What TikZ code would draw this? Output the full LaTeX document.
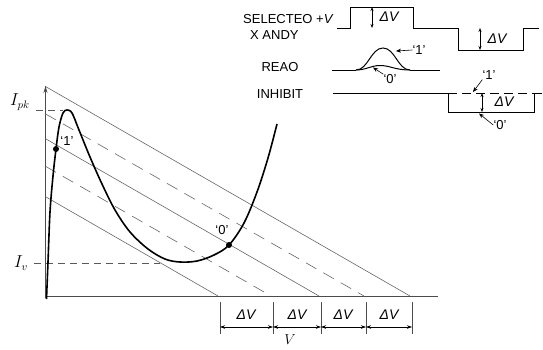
\documentclass[tikz,border=0pt]{standalone}
\usepackage{fontspec}
\setsansfont{Liberation Sans}
\usetikzlibrary{arrows.meta}
\begin{document}
\begin{tikzpicture}[x=1pt,y=-1pt,
  load/.style={black!60, line width=0.6pt},
  loaddash/.style={load, dash pattern=on 12pt off 8pt},
  axis/.style={black!70, line width=0.8pt},
  curve/.style={black, line width=1.6pt},
  wave/.style={black, line width=1pt},
  lvl/.style={black!65, dash pattern=on 7pt off 5pt, line width=0.6pt},
  lbl/.style={font=\fontsize{13}{13}\selectfont\sffamily, inner sep=0pt},
  qlbl/.style={font=\fontsize{13}{13}\selectfont\sffamily, inner sep=0pt},
  dvl/.style={font=\fontsize{14}{14}\selectfont\sffamily\itshape, inner sep=0pt},
  mlbl/.style={font=\fontsize{16}{16}\selectfont, inner sep=0pt},
  dim/.style={{Stealth[length=5pt,width=3.5pt]}-{Stealth[length=5pt,width=3.5pt]}, line width=0.6pt},
  vdim/.style={{Stealth[length=4pt,width=3pt]}-{Stealth[length=4pt,width=3pt]}, line width=0.7pt},
  ptr/.style={-{Stealth[length=5pt,width=4pt]}, line width=0.6pt},
  dot/.style={circle, fill=black, inner sep=0pt, minimum size=6pt}
]
\useasboundingbox (0,0) rectangle (543,349);

% ---------- axes ----------
\coordinate (O) at (45.5,296);
\coordinate (ytop) at (45.5,86);
\coordinate (ybot) at (45.5,298);
\coordinate (xend) at (438,296);
\draw[axis] (ybot) -- (ytop);
\draw[axis] (O) -- (xend);
\draw[axis, -{Stealth[length=7pt,width=4pt]}] (45.5,100) -- (ytop);

% ---------- load lines ----------
\coordinate (L1a) at (45.5,86.5);  \coordinate (L1b) at (410,296);
\coordinate (L2a) at (45.5,113.9); \coordinate (L2b) at (364,296);
\coordinate (L3a) at (45.5,138.7); \coordinate (L3b) at (319,296);
\coordinate (L4a) at (45.5,166.3); \coordinate (L4b) at (271,296);
\coordinate (L5a) at (45.5,196.7); \coordinate (L5b) at (218,296);
\draw[load] (L1a) -- (L1b);
\draw[loaddash] (L2a) -- (L2b);
\draw[load] (L3a) -- (L3b);
\draw[loaddash] (L4a) -- (L4b);
\draw[load] (L5a) -- (L5b);

% ---------- Ipk / Iv levels ----------
\node[mlbl] (ipk) at (20,102) {$I_{pk}$};
\node[mlbl] (iv) at (21,263) {$I_{v}$};
\coordinate (pk) at (63,110);
\coordinate (vl) at (160,263);
\draw[lvl] (36,110) -- (pk);
\draw[lvl] (34,263) -- (vl);

% ---------- characteristic curve ----------
\draw[curve] plot[smooth, tension=0.55] coordinates {
  (46.5,299) (48,262) (50,212) (53,176) (56,149) (59,127) (63,113) (67,110)
  (72,113) (79,130) (90,157) (102,184) (115,210) (130,232) (148,249)
  (165,259) (180,262) (197,261) (214,255) (229,245) (244,223) (257,192)
  (268,158) (277,124)};
\node[dot] (d1) at (56,149) {};
\node[dot] (d0) at (229,245) {};
\node[qlbl] (l1) at (67,141) {‘1’};
\node[qlbl] (l0) at (222,230) {‘0’};

% ---------- Delta V dimensions ----------
\coordinate (t1) at (220,302); \coordinate (t1b) at (220,334);
\coordinate (t2) at (273,302); \coordinate (t2b) at (273,334);
\coordinate (t3) at (321,302); \coordinate (t3b) at (321,334);
\coordinate (t4) at (366,302); \coordinate (t4b) at (366,334);
\coordinate (t5) at (412,302); \coordinate (t5b) at (412,334);
\foreach \t in {t1,t2,t3,t4,t5} \draw[black!70, line width=0.5pt] (\t) -- (\t b);
\coordinate (a1) at (220,327); \coordinate (a2) at (273,327);
\coordinate (a3) at (321,327); \coordinate (a4) at (366,327);
\coordinate (a5) at (412,327);
\draw[dim] (a1) -- (a2);
\draw[dim] (a2) -- (a3);
\draw[dim] (a3) -- (a4);
\draw[dim] (a4) -- (a5);
\node[dvl] (dv1) at (246,315) {ΔV};
\node[dvl] (dv2) at (297,315) {ΔV};
\node[dvl] (dv3) at (343,315) {ΔV};
\node[dvl] (dv4) at (389,315) {ΔV};
\node[font=\fontsize{14}{14}\selectfont, inner sep=0pt] (vv) at (290,340) {$V$};

% ---------- waveforms: labels ----------
\node[lbl, anchor=west] (sel) at (243,19) {SELECTEO +\textit{V}};
\node[lbl, anchor=west] (xy) at (250,35) {X ANDY};
\node[lbl] (rd) at (280,67) {REAO};
\node[lbl] (inh) at (280,94) {INHIBIT};

% selected X and Y
\draw[wave] (337,28) -- (350,28) -- (350,7) -- (413,7) -- (413,28) -- (458,28)
  -- (458,50) -- (523,50) -- (523,28) -- (539,28);
\coordinate (s1a) at (372,7); \coordinate (s1b) at (372,28);
\coordinate (s2a) at (480,28); \coordinate (s2b) at (480,50);
\draw[vdim] (s1a) -- (s1b);
\draw[vdim] (s2a) -- (s2b);
\node[dvl] (sdv1) at (389,17) {ΔV};
\node[dvl] (sdv2) at (497,39) {ΔV};

% read
\draw[wave] (332,70) -- (356,70);
\draw[wave] (410,70) -- (440,70);
\draw[wave] (356,70) .. controls (368,70) and (371,48) .. (383,48)
  .. controls (395,48) and (398,70) .. (410,70);
\draw[wave] (356,70) .. controls (366,70) and (371,65.5) .. (380,65.5)
  .. controls (390,65.5) and (395,70) .. (410,70);
\node[qlbl] (r1) at (419,50) {‘1’};
\node[qlbl] (r0) at (390,79) {‘0’};
\draw[ptr] (r1.west) -- (396,51);
\draw[ptr] (r0.north west) -- (373,67.5);

% inhibit
\draw[wave] (333,93) -- (448,93) -- (448,112) -- (534,112) -- (534,93) -- (542,93);
\draw[wave, dash pattern=on 9pt off 5pt] (448,93) -- (534,93);
\coordinate (i1a) at (482,93); \coordinate (i1b) at (482,112);
\draw[vdim] (i1a) -- (i1b);
\node[dvl] (idv) at (504,102) {ΔV};
\node[qlbl] (i1) at (489,75) {‘1’};
\node[qlbl] (i0) at (500,125) {‘0’};
\draw[ptr] (i1.south west) -- (473,92);
\draw[ptr] (i0.west) -- (479,113.5);
\end{tikzpicture}
\end{document}
